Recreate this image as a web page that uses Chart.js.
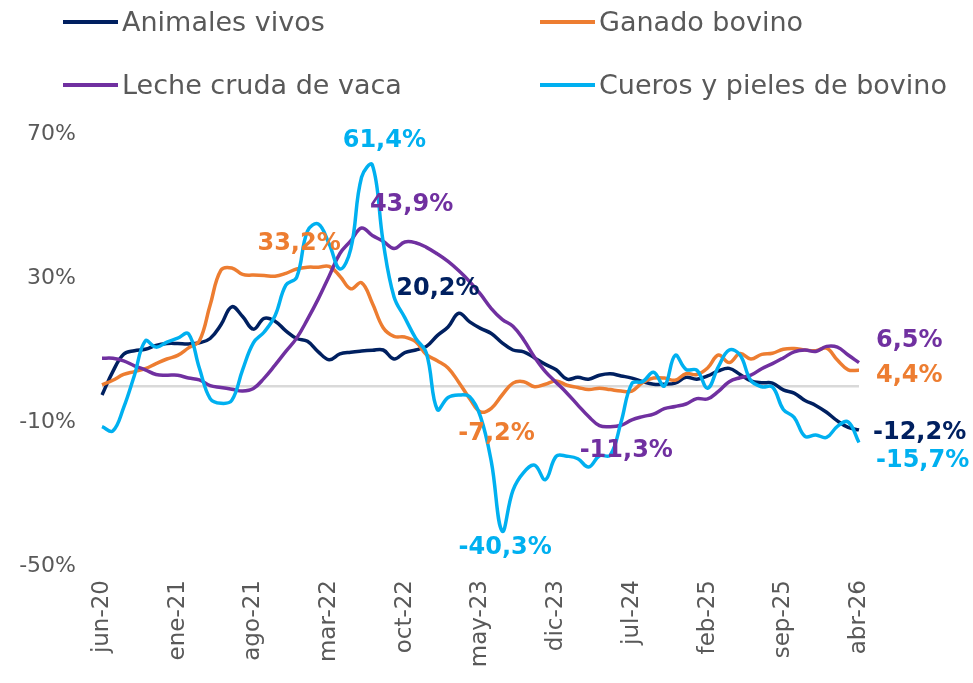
<!DOCTYPE html>
<html>
<head>
<meta charset="utf-8">
<script src="https://cdn.jsdelivr.net/npm/chart.js@4/dist/chart.umd.min.js"></script>
<style>
  html, body { margin: 0; padding: 0; background: #fff; }
  #wrap { position: relative; width: 973px; height: 683px; overflow: hidden; }
  #c { position: absolute; left: 0; top: 0; }
  .leg { position: absolute; font-family: "DejaVu Sans", sans-serif; font-size: 27px; color: #595959; white-space: nowrap; line-height: 30px; }
  .leg span.sw { display: inline-block; width: 55px; height: 4px; vertical-align: middle; margin-right: 4px; position: relative; top: -2px; }
</style>
</head>
<body>
<div id="wrap">
  <canvas id="c" width="973" height="683"></canvas>
  <div class="leg" style="left:63px; top:7px;"><span class="sw" style="background:#002060"></span>Animales vivos</div>
  <div class="leg" style="left:540px; top:7px;"><span class="sw" style="background:#ED7D31"></span>Ganado bovino</div>
  <div class="leg" style="left:63px; top:70px;"><span class="sw" style="background:#7030A0"></span>Leche cruda de vaca</div>
  <div class="leg" style="left:540px; top:70px;"><span class="sw" style="background:#00B0F0"></span>Cueros y pieles de bovino</div>
</div>
<script>
// ---- Categories (monthly, jun-20 .. abr-26) ----
const MONTHS = ['ene','feb','mar','abr','may','jun','jul','ago','sep','oct','nov','dic'];
const categories = [];
for (let y = 2020, m = 5; y < 2026 || (y === 2026 && m <= 3); ) {
  categories.push(MONTHS[m] + '-' + String(y).slice(2));
  m++; if (m > 11) { m = 0; y++; }
}

// ---- Series values (% year-on-year) ----
const seriesNames = ['Animales vivos', 'Ganado bovino', 'Leche cruda de vaca', 'Cueros y pieles de bovino'];

const animalesVivos = [
  -2.5, 4.0, 8.8, 9.8, 10.2, 11.3, 11.8, 11.8, 11.7, 12.0,
  13.2, 17.0, 22.0, 19.3, 15.8, 18.8, 18.0, 15.3, 13.2, 12.4,
  9.5, 7.3, 8.9, 9.4, 9.7, 9.9, 10.0, 7.5, 9.3, 10.0,
  11.0, 14.0, 16.4, 20.2, 17.8, 16.0, 14.6, 12.0, 10.0, 9.5,
  7.8, 6.0, 4.5, 1.9, 2.4, 1.9, 3.0, 3.4, 2.8, 2.2,
  1.2, 0.5, 0.5, 0.8, 2.4, 1.9, 2.8, 4.2, 4.9, 3.2,
  1.4, 0.9, 0.8, -1.1, -2.0, -4.0, -5.4, -7.3, -9.7, -11.5,
  -12.2
];

const ganadoBovino = [
  0.3, 1.6, 3.2, 4.0, 4.8, 6.2, 7.5, 8.5, 10.6, 12.5,
  22.5, 32.2, 32.8, 31.0, 30.8, 30.7, 30.5, 31.3, 32.5, 33.0,
  33.0, 33.2, 30.5, 27.0, 28.7, 23.0, 16.2, 13.8, 13.6, 12.3,
  8.7, 7.0, 5.0, 1.0, -3.5, -7.2, -6.2, -2.5, 0.8, 1.2,
  -0.2, 0.5, 1.4, 0.2, -0.4, -1.0, -0.6, -1.0, -1.4, -1.4,
  1.0, 2.2, 2.2, 1.6, 3.4, 3.2, 5.0, 8.6, 6.5, 9.0,
  7.5, 8.8, 9.1, 10.2, 10.4, 10.0, 9.8, 10.5, 7.2, 4.5,
  4.4
];

const lecheCruda = [
  7.7, 7.7, 7.0, 5.6, 4.5, 3.2, 3.0, 3.0, 2.2, 1.7,
  0.1, -0.4, -0.9, -1.4, -0.7, 2.2, 5.8, 9.6, 13.3, 18.5,
  24.2, 30.5, 36.8, 40.3, 43.9, 41.8, 40.2, 38.2, 40.0, 39.8,
  38.5, 36.7, 34.6, 32.0, 29.0, 25.5, 21.5, 18.5, 16.6, 12.8,
  8.0, 4.0, 1.0, -2.0, -5.3, -8.5, -11.0, -11.3, -10.9, -9.4,
  -8.5, -7.8, -6.3, -5.7, -5.0, -3.5, -3.6, -1.5, 1.2, 2.3,
  3.0, 4.8, 6.2, 7.8, 9.5, 10.0, 9.6, 11.0, 10.8, 8.6,
  6.5
];

const cuerosPieles = [
  -11.3, -12.5, -6.0, 3.0, 12.5, 10.8, 12.2, 13.3, 14.5, 5.0,
  -3.5, -4.8, -4.0, 4.5, 12.0, 15.0, 19.5, 28.0, 30.2, 43.0,
  45.0, 39.5, 32.5, 38.0, 58.0, 61.4, 40.0, 24.8, 19.0, 13.3,
  9.1, -6.5, -3.2, -2.5, -3.0, -8.5, -21.0, -40.3, -29.0, -24.0,
  -22.0, -26.0, -19.5, -19.5, -20.2, -22.5, -19.4, -19.2, -10.0, 0.7,
  1.2, 3.8, 0.0, 8.5, 4.6, 4.4, -0.6, 5.4, 10.0, 8.6,
  1.5, -0.2, -0.3, -6.5, -8.7, -14.0, -13.6, -14.3, -11.2, -10.0,
  -15.7
];

// ---- Y tick labels shown ----
const yTicksShown = [-50, -10, 30, 70];
const xTickEvery = 7;

// ---- Value labels (series index, category index) ----
const valueLabels = [
  { ds: 3, i: 25, dx: 12,  dy: -24, align: 'center' },
  { ds: 2, i: 24, dx: 50,  dy: -23, align: 'center' },
  { ds: 1, i: 21, dx: -30, dy: -23, align: 'center' },
  { ds: 0, i: 33, dx: -21, dy: -25, align: 'center' },
  { ds: 1, i: 35, dx: 16,  dy: 22,  align: 'center' },
  { ds: 3, i: 37, dx: 3,   dy: 17,  align: 'center' },
  { ds: 2, i: 47, dx: 16,  dy: 24,  align: 'center' },
  { ds: 2, i: 70, dx: 17,  dy: -22, align: 'left' },
  { ds: 1, i: 70, dx: 17,  dy: 6,   align: 'left' },
  { ds: 0, i: 70, dx: 14,  dy: 3,   align: 'left' },
  { ds: 3, i: 70, dx: 17,  dy: 18,  align: 'left' }
];

const colors = ['#002060', '#ED7D31', '#7030A0', '#00B0F0'];
const allSeries = [animalesVivos, ganadoBovino, lecheCruda, cuerosPieles];

const fmt = v => v.toFixed(1).replace('.', ',') + '%';

const labelPlugin = {
  id: 'valueLabels',
  afterDatasetsDraw(chart) {
    const ctx = chart.ctx;
    ctx.save();
    ctx.font = 'bold 24px "DejaVu Sans", sans-serif';
    ctx.textBaseline = 'middle';
    valueLabels.forEach(l => {
      const pt = chart.getDatasetMeta(l.ds).data[l.i];
      ctx.fillStyle = colors[l.ds];
      ctx.textAlign = l.align;
      ctx.fillText(fmt(allSeries[l.ds][l.i]), pt.x + l.dx, pt.y + l.dy);
    });
    ctx.restore();
  }
};

new Chart(document.getElementById('c'), {
  type: 'line',
  data: {
    labels: categories,
    datasets: allSeries.map((d, k) => ({
      label: seriesNames[k],
      data: d,
      borderColor: colors[k],
      backgroundColor: colors[k],
      borderWidth: 3.5,
      pointRadius: 0,
      tension: 0.4,
      fill: false,
      order: 4 - k
    }))
  },
  options: {
    responsive: false,
    animation: false,
    devicePixelRatio: 1,
    layout: { padding: { top: 134, right: 114, left: 0, bottom: 0 } },
    plugins: { legend: { display: false }, tooltip: { enabled: false } },
    scales: {
      x: {
        offset: false,
        afterFit: s => { s.height = 117; },
        grid: { display: false, drawTicks: false },
        border: { display: false },
        ticks: {
          autoSkip: false,
          maxRotation: 90,
          minRotation: 90,
          padding: 14,
          color: '#595959',
          font: { family: '"DejaVu Sans", sans-serif', size: 23 },
          callback: function (v, i) { return i % xTickEvery === 0 ? categories[i] : ''; }
        }
      },
      y: {
        min: -50,
        max: 70,
        afterFit: s => { s.width = 102; },
        border: { display: false },
        grid: {
          drawTicks: false,
          lineWidth: 2.5,
          color: c => (c.tick && c.tick.value === 0) ? '#D9D9D9' : 'rgba(0,0,0,0)'
        },
        ticks: {
          stepSize: 10,
          padding: 26,
          color: '#595959',
          font: { family: '"DejaVu Sans", sans-serif', size: 22 },
          callback: v => yTicksShown.includes(v) ? v + '%' : ''
        }
      }
    }
  },
  plugins: [labelPlugin]
});
</script>
</body>
</html>
